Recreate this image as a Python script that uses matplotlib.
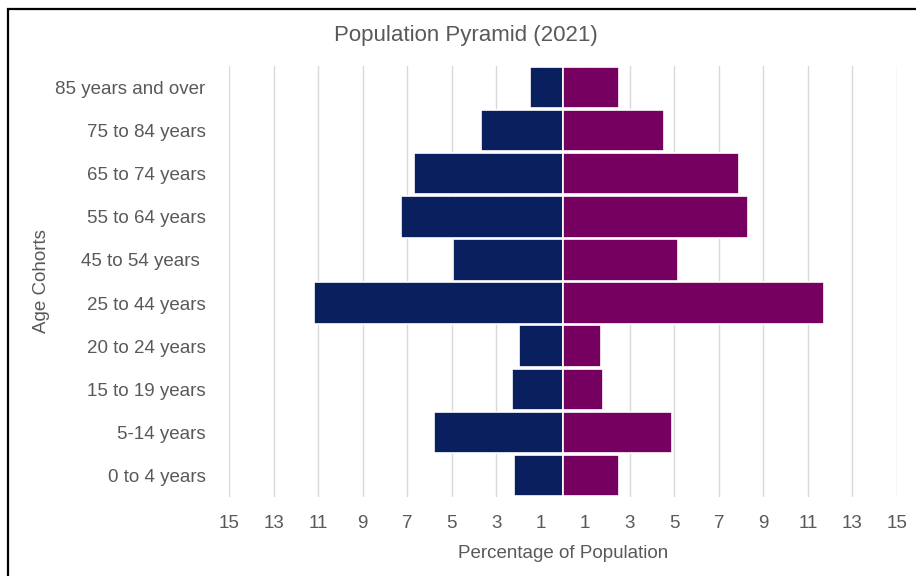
import matplotlib
matplotlib.use("Agg")
import matplotlib.pyplot as plt
from matplotlib.patches import Rectangle

# Age cohorts, top to bottom as shown on the chart
cohorts = [
    "85 years and over",
    "75 to 84 years",
    "65 to 74 years",
    "55 to 64 years",
    "45 to 54 years ",
    "25 to 44 years",
    "20 to 24 years",
    "15 to 19 years",
    "5-14 years",
    "0 to 4 years",
]

# Percentage of population on each side of the pyramid
left_pct = [1.48, 3.68, 6.68, 7.29, 4.95, 11.18, 1.98, 2.28, 5.78, 2.19]
right_pct = [2.51, 4.54, 7.92, 8.32, 5.18, 11.70, 1.71, 1.81, 4.89, 2.51]

tick_values = [-15, -13, -11, -9, -7, -5, -3, -1, 1, 3, 5, 7, 9, 11, 13, 15]
tick_labels = ["15", "13", "11", "9", "7", "5", "3", "1",
               "1", "3", "5", "7", "9", "11", "13", "15"]

title = "Population Pyramid (2021)"
x_label = "Percentage of Population"
y_label = "Age Cohorts"

NAVY = "#0A1F5E"
PLUM = "#76005F"
TEXT = "#595959"
GRID = "#D9D9D9"

plt.rcParams["font.family"] = ["Liberation Sans", "DejaVu Sans"]

W, H, DPI = 916, 576, 100
fig = plt.figure(figsize=(W / DPI, H / DPI), dpi=DPI, facecolor="white")

# Plot area in pixel terms converted to figure fractions
px_left, px_right, px_top, px_bottom = 229, 897, 66, 497
ax = fig.add_axes([px_left / W, 1 - px_bottom / H,
                   (px_right - px_left) / W, (px_bottom - px_top) / H])

n = len(cohorts)
ypos = list(range(n))[::-1]

ax.barh(ypos, [-v for v in left_pct], height=0.96, color=NAVY,
        edgecolor="white", linewidth=1.2, zorder=3)
ax.barh(ypos, right_pct, height=0.96, color=PLUM,
        edgecolor="white", linewidth=1.2, zorder=3)

ax.set_xlim(-15, 15)
ax.set_ylim(-0.5, n - 0.5)

ax.set_xticks(tick_values)
ax.set_xticklabels(tick_labels)
ax.set_yticks(ypos)
ax.set_yticklabels(cohorts)

ax.tick_params(axis="both", length=0, labelsize=13.5, colors=TEXT)
ax.tick_params(axis="y", pad=17)
ax.tick_params(axis="x", pad=13)

ax.xaxis.grid(True, color=GRID, linewidth=1.0, zorder=0)
ax.yaxis.grid(False)
ax.set_axisbelow(True)
for s in ax.spines.values():
    s.set_visible(False)

ax.set_xlabel(x_label, fontsize=13.5, color=TEXT, labelpad=9)
ax.set_ylabel(y_label, fontsize=13.5, color=TEXT, labelpad=4)

fig.text(466 / W, 1 - 36 / H, title, ha="center", va="center",
         fontsize=16, color=TEXT)

# Black frame along the top and left edges of the chart
frame = Rectangle((8 / W, -0.05), 1.2, 1 - 9 / H + 0.05,
                  transform=fig.transFigure, fill=False,
                  edgecolor="black", linewidth=1.6, clip_on=False)
fig.add_artist(frame)

fig.savefig("out.png", dpi=DPI, facecolor="white")
